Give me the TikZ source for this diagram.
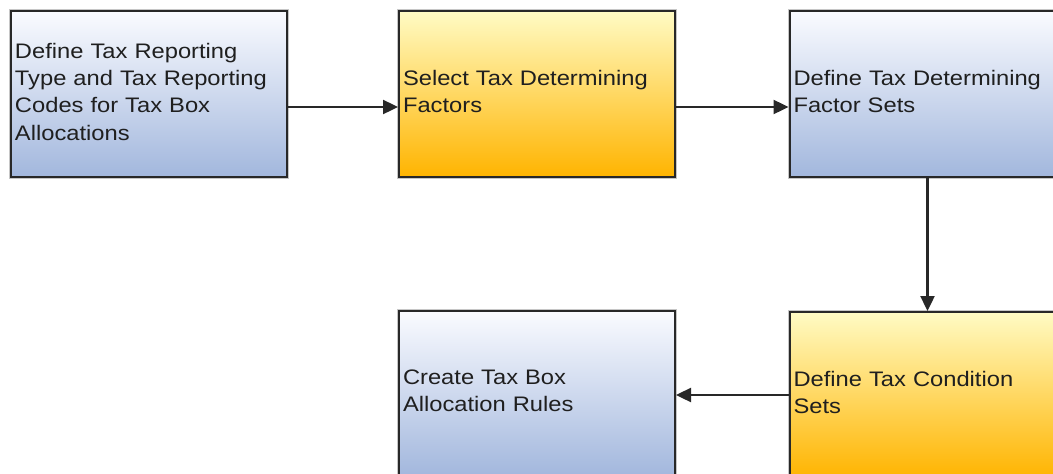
\documentclass[tikz,border=0pt]{standalone}
\usepackage{fontspec}
\setmainfont{Liberation Sans}[FakeStretch=1.13]
\usetikzlibrary{arrows.meta}
\definecolor{bluetop}{RGB}{250,251,255}
\definecolor{bluebot}{RGB}{162,183,221}
\definecolor{yeltop}{RGB}{255,251,196}
\definecolor{yelbot}{RGB}{255,180,0}
\definecolor{edgecol}{RGB}{40,40,40}
\tikzset{
  box/.style={draw=edgecol, line width=2pt, minimum width=276pt, minimum height=166pt,
    text width=268pt, inner xsep=4pt, inner ysep=0pt, align=left, anchor=north west,
    font=\fontsize{21}{27.3}\selectfont, text=black!88,
    execute at end node={\rule[-5pt]{0pt}{5pt}},
    preaction={draw=gray!45, line width=4pt}},
  bluebox/.style={box, top color=bluetop, bottom color=bluebot},
  yelbox/.style={box, top color=yeltop, bottom color=yelbot},
  arr/.style={draw=edgecol, line width=2.4pt, -{Triangle[length=15pt,width=14pt]}}
}
\begin{document}
\begin{tikzpicture}[x=1pt,y=-1pt]
\useasboundingbox (0,0) rectangle (1053,474);
\clip (0,0) rectangle (1053,474);
\node[bluebox] (b1) at (10,10) {Define Tax Reporting\\Type and Tax Reporting\\Codes for Tax Box\\Allocations};
\node[yelbox] (b2) at (398,10) {Select Tax Determining\\Factors};
\node[bluebox] (b3) at (788.5,10) {Define Tax Determining\\Factor Sets};
\node[yelbox] (b4) at (788.5,311) {Define Tax Condition\\Sets};
\node[bluebox] (b5) at (398,309.5) {Create Tax Box\\Allocation Rules};
\draw[arr] ([yshift=-13pt]b1.east) -- ([yshift=-13pt]b2.west);
\draw[arr] ([yshift=-13pt]b2.east) -- ([yshift=-13pt]b3.west);
\draw[arr] (b3.south) -- (b4.north);
\draw[arr] (b4.west) -- (b4.west -| b5.east);
\end{tikzpicture}
\end{document}
